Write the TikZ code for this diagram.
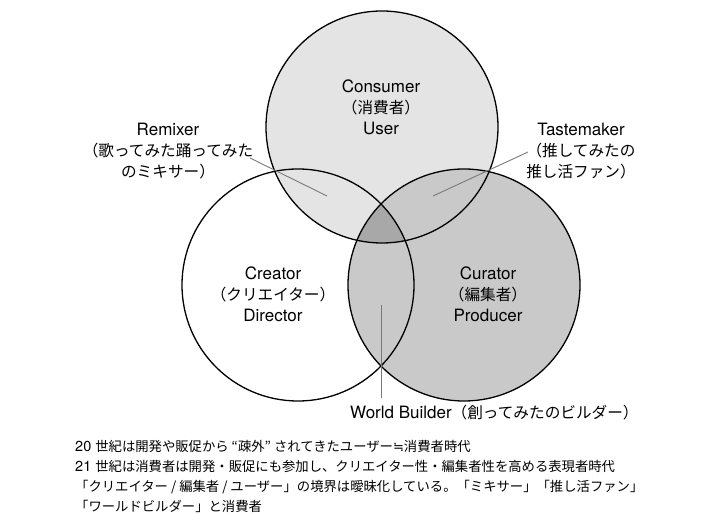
\documentclass[tikz,border=0pt]{standalone}
\usepackage{fontspec}
\setmainfont{TeX Gyre Heros}
\newfontfamily\jpfont[Scale=0.92]{Noto Sans CJK JP}
\newfontfamily\symfont[Scale=0.9]{DejaVu Sans}
\newcommand{\jp}[1]{{\jpfont #1}}
\usetikzlibrary{positioning}

\definecolor{usergray}{HTML}{E4E4E4}
\definecolor{curatorgray}{HTML}{C9C9C9}
\definecolor{coregray}{HTML}{A8A8A8}
\definecolor{leadgray}{HTML}{7A7A7A}

\tikzset{
  ring/.style={line width=1.3pt,black},
  lead/.style={leadgray,line width=0.9pt},
  rolelabel/.style={align=center,inner sep=0pt},
}

\begin{document}
\begin{tikzpicture}[x=1pt,y=1pt,font=\fontsize{17}{21}\selectfont]
\useasboundingbox (0,0) rectangle (726,514);
% circles
\coordinate (cuser) at (382,387);
\coordinate (ccreator) at (298,229);
\coordinate (ccurator) at (464,229);
\fill[usergray] (cuser) circle[radius=116];
\fill[curatorgray] (ccurator) circle[radius=116];
\begin{scope}
\clip (ccreator) circle[radius=116];
\clip (ccurator) circle[radius=116];
\fill[coregray] (cuser) circle[radius=116];
\end{scope}
\draw[ring] (cuser) circle[radius=116];
\draw[ring] (ccreator) circle[radius=116];
\draw[ring] (ccurator) circle[radius=116];
% role labels
\node[rolelabel] (consumer) at (381,407) {Consumer\\\jp{（消費者）}\\User};
\node[rolelabel] (creator) at (273,220) {Creator\\\jp{（クリエイター）}\\Director};
\node[rolelabel] (curator) at (488,220) {Curator\\\jp{（編集者）}\\Producer};
\node[rolelabel] (remixer) at (168,363) {Remixer\\\jp{（歌ってみた踊ってみた}\\\jp{のミキサー）}};
\node[rolelabel] (tastemaker) at (581,363) {Tastemaker\\\jp{（推してみたの}\\\jp{推し活ファン）}};
\node[rolelabel,anchor=west] (builder) at (350,101) {World Builder\jp{（創ってみたのビルダー）}};
% leaders
\coordinate (remixtail) at (250,356);
\coordinate (remixtip) at (327,318);
\coordinate (tastetail) at (528,362);
\coordinate (tastetip) at (433,318);
\coordinate (buildtail) at (381,116);
\coordinate (buildtip) at (381,209);
\draw[lead] (remixtail)--(remixtip);
\draw[lead] (tastetail)--(tastetip);
\draw[lead] (buildtail)--(buildtip);
% caption
\node[anchor=west,align=left,inner sep=0pt,font=\fontsize{14.5}{20}\selectfont] (caption) at (75,38)
{20 \jp{世紀は開発や販促から “疎外” されてきたユーザー}{\symfont ≒}\jp{消費者時代}\\
21 \jp{世紀は消費者は開発・販促にも参加し、クリエイター性・編集者性を高める表現者時代}\\
\jp{「クリエイター / 編集者 / ユーザー」の境界は曖昧化している。「ミキサー」「推し活ファン」}\\
\jp{「ワールドビルダー」と消費者}};
\end{tikzpicture}
\end{document}
